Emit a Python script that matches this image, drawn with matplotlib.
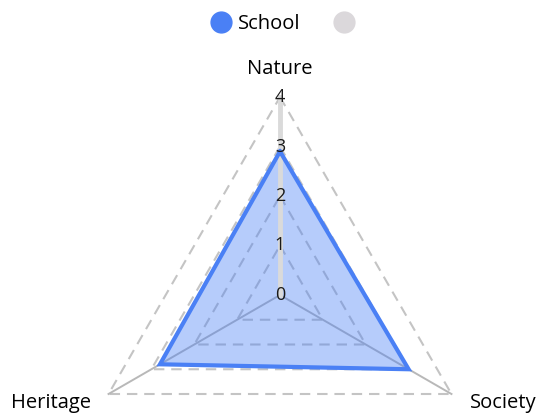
import numpy as np
import matplotlib.pyplot as plt
from matplotlib.lines import Line2D

# radar data
categories = ['Nature', 'Society', 'Heritage']
school = [2.9, 3.0, 2.8]
levels = [0, 1, 2, 3, 4]

plt.rcParams['font.family'] = ['Open Sans', 'DejaVu Sans']

# axes run clockwise starting at the top
angles = np.deg2rad(90 - 120 * np.arange(len(categories)))
cx, cy = np.cos(angles), np.sin(angles)

fig = plt.figure(figsize=(5.42, 4.17), dpi=100)
ax = fig.add_axes([0, 0, 1, 1])
unit = 49.5  # pixels per scale step
ax.set_xlim(-280 / unit, 262 / unit)
ax.set_ylim(-122 / unit, 295 / unit)
ax.axis('off')

grid_col = '#c4c4c4'
# dashed polygon rings
for lv in levels[1:]:
    xs = np.append(cx * lv, cx[0] * lv)
    ys = np.append(cy * lv, cy[0] * lv)
    ax.plot(xs, ys, color=grid_col, lw=1.5, ls=(0, (5, 3.3)), zorder=1)

# spokes
for i in range(len(categories)):
    ax.plot([0, cx[i] * levels[-1]], [0, cy[i] * levels[-1]],
            color='#b8b8b8', lw=1.4, zorder=1)

# data polygon
blue = '#4a80f5'
vals = np.array(school)
px = np.append(cx * vals, cx[0] * vals[0])
py = np.append(cy * vals, cy[0] * vals[0])
ax.fill(px, py, color=blue, alpha=0.4, lw=0, zorder=2)
ax.plot(px, py, color=blue, lw=3, solid_joinstyle='miter', zorder=4)

# vertical scale bar with tick labels
ax.plot([0, 0], [0, levels[-1]], color='#dadada', lw=3.5, zorder=3)
for lv in levels:
    ax.text(0, lv, str(lv), ha='center', va='center', fontsize=13,
            color='#1a1a1a', zorder=5)

# point labels
ax.text(0, 4 + 28 / unit, 'Nature', ha='center', va='center', fontsize=14.5)
ax.text(cx[1] * 4 + 18 / unit, cy[1] * 4 - 9 / unit, 'Society',
        ha='left', va='center', fontsize=14.5)
ax.text(cx[2] * 4 - 18 / unit, cy[2] * 4 - 9 / unit, 'Heritage',
        ha='right', va='center', fontsize=14.5)

handles = [
    Line2D([], [], ls='none', marker='o', ms=15, color=blue, label='School'),
    Line2D([], [], ls='none', marker='o', ms=15, color='#dbd8db', label=' '),
]
fig.legend(handles=handles, loc='center', bbox_to_anchor=(0.53, 1 - 24 / 417),
           ncol=2, frameon=False, fontsize=14.5, handletextpad=0.25,
           columnspacing=1.55, handlelength=1.2)

fig.savefig('out.png', dpi=100)
